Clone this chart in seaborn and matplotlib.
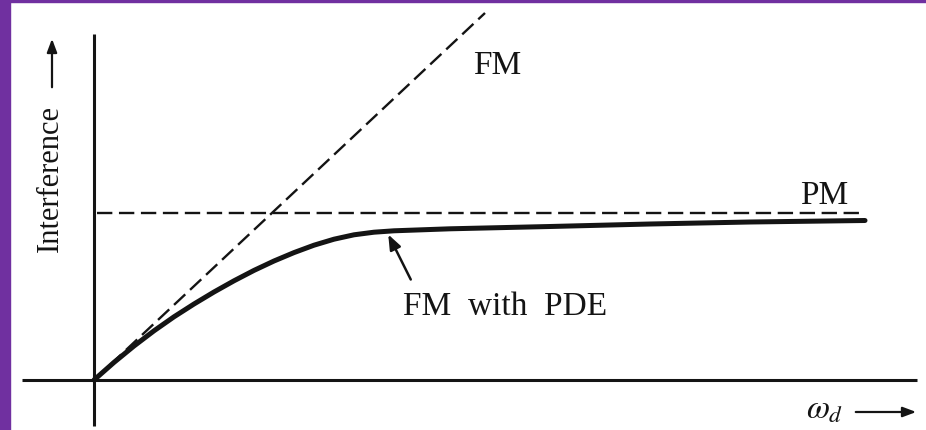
import numpy as np
import pandas as pd
import matplotlib
matplotlib.use("Agg")
import matplotlib.pyplot as plt
from matplotlib.patches import Rectangle
import seaborn as sns

# curve "FM with PDE"
pde_x = [0, 0.2, 0.4, 0.6, 0.8, 1.0, 1.2, 1.4, 1.6, 1.8, 2.0, 2.2, 2.4, 2.6, 2.8,
         3.0, 3.56, 4.56, 5.56, 6.56, 7.71]
pde_y = [0, 0.176, 0.34, 0.492, 0.632, 0.76, 0.88, 0.992, 1.096, 1.19, 1.274, 1.348,
         1.408, 1.452, 1.478, 1.492, 1.512, 1.535, 1.56, 1.58, 1.595]

# plain FM straight line and the PM ceiling
fm_x = [0, 3.91]
fm_y = [0, 3.67]
pm_x = [0.03, 7.71]
pm_y = [1.67, 1.67]

sns.set_style("white")
plt.rcParams["font.family"] = ["Liberation Serif", "DejaVu Serif"]
plt.rcParams["mathtext.fontset"] = "stix"

fig = plt.figure(figsize=(9.26, 4.31), dpi=100)
ax = fig.add_axes([0, 0, 1, 1])
ax.set_xlim(-0.94, 8.32)
ax.set_ylim(-0.50, 3.81)
ax.axis("off")

ink = "#141414"

# axes drawn by hand, like the book figure
ax.plot([-0.72, 8.23], [0, 0], color=ink, lw=2.2, solid_capstyle="butt")
ax.plot([0, 0], [-0.46, 3.46], color=ink, lw=2.2, solid_capstyle="butt")

sns.lineplot(x=fm_x, y=fm_y, color=ink, lw=1.7, linestyle=(0, (6.5, 2.8)), ax=ax)
sns.lineplot(x=pm_x, y=pm_y, color=ink, lw=1.7, linestyle=(0, (6.5, 2.8)), ax=ax)
sns.lineplot(x=pde_x, y=pde_y, color=ink, lw=3.6, sort=False, ax=ax,
             solid_joinstyle="round", solid_capstyle="round")

ax.annotate("", xy=(2.93, 1.48), xytext=(3.18, 0.98),
            arrowprops=dict(arrowstyle="-|>,head_length=0.9,head_width=0.35", color=ink, lw=1.8))

fs = 24
ax.text(3.79, 3.07, "FM", fontsize=fs, color=ink, ha="left", va="baseline")
ax.text(7.06, 1.77, "PM", fontsize=fs, color=ink, ha="left", va="baseline")
ax.text(3.09, 0.66, "FM  with  PDE", fontsize=fs, color=ink, ha="left", va="baseline")

# axis titles with arrows
fig.text(0.054, 0.587, "Interference", rotation=90, fontsize=22, color=ink, ha="center", va="center")
ax.annotate("", xy=(-0.42, 3.44), xytext=(-0.42, 2.90),
            arrowprops=dict(arrowstyle="-|>,head_length=0.8,head_width=0.3", color=ink, lw=1.6))
fig.text(0.870, 0.048, r"$\omega_d$", fontsize=24, color=ink, ha="left", va="center")
ax.annotate("", xy=(8.25, -0.32), xytext=(7.59, -0.32),
            arrowprops=dict(arrowstyle="-|>,head_length=0.8,head_width=0.3", color=ink, lw=1.6))

# purple frame strips
fig.patches.append(Rectangle((0, 0), 10 / 926, 1, transform=fig.transFigure, color="#7030a0", zorder=10))
fig.patches.append(Rectangle((0, 1 - 3 / 431), 1, 3 / 431, transform=fig.transFigure, color="#7030a0", zorder=10))

plt.savefig("out.png", dpi=100)
